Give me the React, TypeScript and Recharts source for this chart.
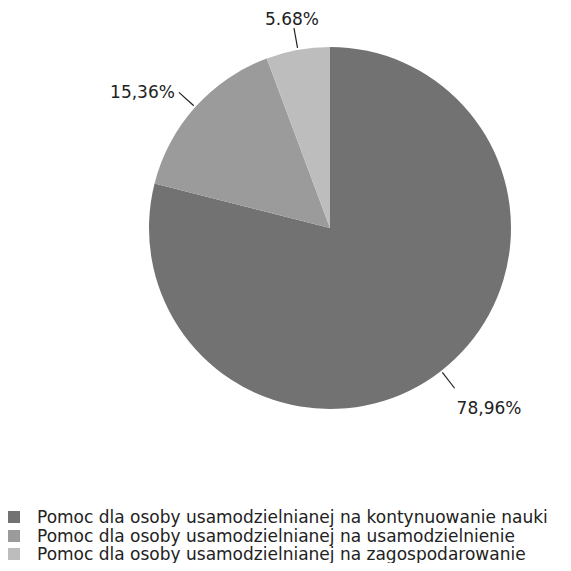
import { Cell, Legend, Pie, PieChart } from "recharts"

const NAMES: string[] = [
	"Pomoc dla osoby usamodzielnianej na kontynuowanie nauki",
	"Pomoc dla osoby usamodzielnianej na usamodzielnienie",
	"Pomoc dla osoby usamodzielnianej na zagospodarowanie",
]
const VALUES: number[] = [78.96, 15.36, 5.68]
const LABELS: string[] = ["78,96%", "15,36%", "5.68%"]
const COLORS: string[] = ["#727272", "#9b9b9b", "#bdbdbd"]

const data = NAMES.map((name, i) => ({ name, value: VALUES[i] }))

const RAD = Math.PI / 180

const renderLabel = (props: any) => {
	const { cx, cy, midAngle, outerRadius, index } = props
	const cos = Math.cos(-midAngle * RAD)
	const sin = Math.sin(-midAngle * RAD)
	const sx = cx + (outerRadius + 2) * cos
	const sy = cy + (outerRadius + 2) * sin
	const ex = cx + (outerRadius + 22) * cos
	const ey = cy + (outerRadius + 22) * sin
	const anchor = cos > 0.3 ? "start" : cos < -0.3 ? "end" : "middle"
	const tx = ex + (cos > 0.3 ? 2 : cos < -0.3 ? -4 : -2)
	// above / below for steep angles, side-centred otherwise
	const ty = sin > 0.75 ? ey + 26 : sin < -0.75 ? ey - 3 : ey + 6
	return (
		<g>
			<line x1={sx} y1={sy} x2={ex} y2={ey} stroke="#222" strokeWidth={1.2} />
			<text x={tx} y={ty} textAnchor={anchor} fill="#222" fontSize={17} fontFamily="DejaVu Sans">
				{LABELS[index]}
			</text>
		</g>
	)
}

const renderLegend = () => (
	<div style={{ fontFamily: "DejaVu Sans", fontSize: 17, color: "#222" }}>
		{NAMES.map((name, i) => (
			<div key={name} style={{ display: "flex", alignItems: "center", height: 18.5, whiteSpace: "nowrap" }}>
				<span style={{ display: "inline-block", width: 12, height: 12, background: COLORS[i], marginRight: 17 }} />
				<span>{name}</span>
			</div>
		))}
	</div>
)

const App = () => {
	return (
		<PieChart width={555} height={555}>
			<Pie
				data={data}
				dataKey="value"
				cx={317}
				cy={215}
				outerRadius={181}
				startAngle={90}
				endAngle={-270}
				stroke="none"
				label={renderLabel}
				labelLine={false}
				isAnimationActive={false}
			>
				{data.map((_, index) => (
					<Cell key={`cell-${index}`} fill={COLORS[index]} />
				))}
			</Pie>
			<Legend content={renderLegend} wrapperStyle={{ left: 0, top: 500, width: 555 }} />
		</PieChart>
	)
}

export default App
